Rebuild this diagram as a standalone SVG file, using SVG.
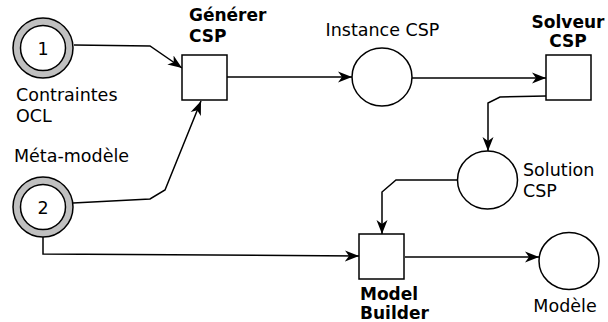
<svg xmlns="http://www.w3.org/2000/svg" width="608" height="322" viewBox="0 0 608 322">
<defs>
<style>
.t{font-family:"DejaVu Sans","Verdana",sans-serif;font-size:17.5px;fill:#000}
.b{font-family:"DejaVu Sans","Verdana",sans-serif;font-size:17px;font-weight:bold;fill:#000}
.place{fill:#fff;stroke:#000;stroke-width:1.5}
.ring{fill:#c0c0c0;stroke:#000;stroke-width:1.5}
.trans{fill:#fff;stroke:#000;stroke-width:1.5}
.edge{fill:none;stroke:#000;stroke-width:1.5;marker-end:url(#arr)}
</style>
<marker id="arr" markerWidth="15" markerHeight="12" refX="14" refY="6" orient="auto" markerUnits="userSpaceOnUse">
<path d="M0,0.5 L14,6 L0,11.5 L4,6 Z" fill="#000"/>
</marker>
</defs>
<rect width="608" height="322" fill="#fff"/>
<g id="connectors">
<path class="edge" d="M74,45 L150,46 L182,68"/>
<path class="edge" d="M73,203 L150,199 L165,190 L201,101"/>
<path class="edge" d="M43,237 L43,254 L359,256"/>
<path class="edge" d="M227,77 L352,77"/>
<path class="edge" d="M412,78 L546,78"/>
<path class="edge" d="M546,96 L500,97 L488,103 L488,151"/>
<path class="edge" d="M457,180 L396,180 L382,192 L382,234"/>
<path class="edge" d="M405,257 L539,257"/>
</g>
<g id="p1">
<circle class="ring" cx="43" cy="48" r="30"/>
<circle class="place" cx="43" cy="48" r="22.5"/>
<text class="t" x="43" y="54.5" text-anchor="middle">1</text>
<text class="t" x="16" y="100.5">Contraintes</text>
<text class="t" x="16" y="121.5">OCL</text>
</g>
<g id="p2">
<circle class="ring" cx="43" cy="207" r="30"/>
<circle class="place" cx="43" cy="207" r="22.5"/>
<text class="t" x="43" y="213.5" text-anchor="middle">2</text>
<text class="t" x="14" y="161.5">Méta-modèle</text>
</g>
<g id="generer">
<rect class="trans" x="182" y="55" width="45" height="45"/>
<text class="b" x="189" y="21">Générer</text>
<text class="b" x="189" y="42">CSP</text>
</g>
<g id="instance">
<ellipse class="place" cx="382" cy="77" rx="30" ry="29"/>
<text class="t" x="382.5" y="35.5" text-anchor="middle">Instance CSP</text>
</g>
<g id="solveur">
<rect class="trans" x="546" y="55" width="45" height="45"/>
<text class="b" x="568" y="27.5" text-anchor="middle">Solveur</text>
<text class="b" x="568" y="47" text-anchor="middle">CSP</text>
</g>
<g id="solution">
<ellipse class="place" cx="487.5" cy="180" rx="30" ry="29"/>
<text class="t" x="523" y="175.5">Solution</text>
<text class="t" x="523" y="196.5">CSP</text>
</g>
<g id="builder">
<rect class="trans" x="359" y="234" width="45" height="45"/>
<text class="b" x="360" y="299.5">Model</text>
<text class="b" x="360" y="318.5">Builder</text>
</g>
<g id="modele">
<ellipse class="place" cx="569" cy="261" rx="30" ry="28.5"/>
<text class="t" x="565" y="312" text-anchor="middle">Modèle</text>
</g>
</svg>
